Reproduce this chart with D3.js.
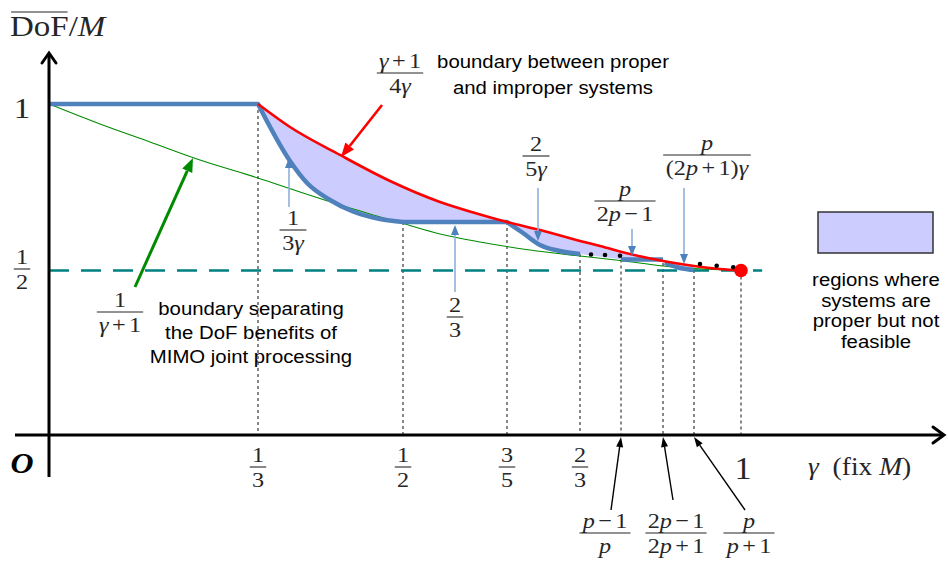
<!DOCTYPE html>
<html>
<head>
<meta charset="utf-8">
<script src="https://cdn.jsdelivr.net/npm/d3@7"></script>
<style>
  html, body { margin: 0; padding: 0; background: #fff; }
  svg { display: block; }
</style>
</head>
<body>
<svg id="chart" width="948" height="563"></svg>
<script>
// ---------- data ----------
// Break points on the γ axis (the generic p-points are drawn with p = 4)
const P = 4;
const gammaBreaks = [0, 1/3, 1/2, 3/5, 2/3, (P - 1) / P, (2 * P - 1) / (2 * P + 1), P / (P + 1), 1];

// Upper boundary (γ+1)/(4γ): proper vs improper systems
const redGamma = [1/3, 0.3701, 0.4276, 0.4851, 0.5356, 0.5692, 0.6, 0.6301, 0.6667, 0.7073, 0.7560, 0.7778, 0.8, 0.9106, 1];
const redValue = [1, 0.935, 0.856, 0.7825, 0.7232, 0.6921, 2/3, 0.6392, 0.6014, 0.5842, 0.5567, 0.5326, 0.5155, 0.5052, 0.5];

// 1/(γ+1): boundary of the MIMO joint-processing DoF benefit
const greenGamma = [0, 0.0813, 0.1611, 0.2408, 1/3, 0.3816, 0.4391, 0.5, 0.5356, 0.574, 0.621, 0.6667, 0.748, 0.7778, 0.8, 1];
const greenValue = [1, 0.9435, 0.8927, 0.8418, 0.791, 0.7514, 0.7062, 0.6615, 0.6254, 0.5979, 0.5704, 0.5498, 0.5344, 0.5155, 0.5069, 0.5];

// Achievable DoF per antenna (blue staircase), piece by piece
const blueFlat1Gamma = [0, 1/3];
const blueFlat1Value = [1, 1];
const blueDrop1Gamma = [1/3, 0.3701, 0.3897, 0.4161, 0.4425, 0.4736, 0.5];
const blueDrop1Value = [1, 0.839, 0.7768, 0.7288, 0.6963, 0.6751, 2/3];
const blueFlat2Gamma = [0.5, 0.6];
const blueFlat2Value = [2/3, 2/3];
const blueDrop2Gamma = [0.6, 0.6146, 0.6301, 0.6484, 0.6667];
const blueDrop2Value = [2/3, 0.6289, 0.5876, 0.5670, 0.5567];
const blueFlatPGamma = [0.75, 0.7778];
const blueFlatPValue = [0.5378, 0.5378];
const blueDropPGamma = [0.779, 0.7885, 0.8];
const blueDropPValue = [0.5258, 0.5103, 0.5017];

// Ellipsis dots along the staircase
const dotGamma = [0.689, 0.7175, 0.748, 0.8255, 0.8966, 0.9672];
const dotValue = [0.555, 0.5533, 0.5509, 0.5223, 0.5165, 0.511];

// Dotted guides from the axis up to the curve
const guideGamma = gammaBreaks.slice(1);
const guideTop = [1, 2/3, 2/3, 0.5567, 0.5378, 0.5258, 0.5017, 0.5];

// Tick labels
const xTickValues = [1/3, 1/2, 3/5, 2/3];
const xTickNum = ["1", "1", "3", "2"];
const xTickDen = ["3", "2", "5", "3"];
const halfLevel = 0.5;
const halfLineEnd = 1.09;

// ---------- layout ----------
const W = 948, H = 563;
const SERIF = "'Liberation Serif', 'Times New Roman', serif";
const SANS = "'Liberation Sans', Arial, sans-serif";
const INK = "#262626";
const SX = 1.1;                       // horizontal text stretch
const BLUE = "#4f81bd", RED = "#ff0000", GREEN = "#008a00", TEAL = "#008080";
const FILL = "#ccccff";

const svg = d3.select("#chart");

const x = d3.scaleLinear()
  .domain(gammaBreaks)
  .range([49, 258, 403, 507, 580, 621, 663, 694, 741]);
const y = d3.scaleLinear()
  .domain([0, 0.5, 2/3, 1])
  .range([435, 270.5, 222, 104]);

const zip = (g, v) => g.map((d, i) => [d, v[i]]);
const mono = d3.line().x(d => x(d[0])).y(d => y(d[1])).curve(d3.curveMonotoneX);
const joinPaths = parts => parts.map((p, i) => (i ? p.replace(/^M/, "L") : p)).join("");

// ---------- shaded region (proper but not feasible) ----------
const lowerPath = joinPaths([
  mono(zip(blueDrop1Gamma, blueDrop1Value)),
  mono(zip(blueFlat2Gamma, blueFlat2Value)),
  mono(zip(blueDrop2Gamma, blueDrop2Value)),
  mono(zip(blueFlatPGamma, blueFlatPValue)),
  mono(zip(blueDropPGamma, blueDropPValue))
]);
const lastLowerG = blueDropPGamma[blueDropPGamma.length - 1];
svg.append("clipPath").attr("id", "aboveBlue")
  .append("path")
  .attr("d", lowerPath + `L${x(lastLowerG)},0L${x(1/3)},0Z`);

const redPts = zip(redGamma, redValue);
svg.append("path")
  .attr("d", mono(redPts) + `L${x(1)},${y(0)}L${x(1/3)},${y(0)}Z`)
  .attr("fill", FILL)
  .attr("clip-path", "url(#aboveBlue)");

// ---------- dotted guides ----------
svg.append("g").selectAll("line").data(guideGamma).join("line")
  .attr("x1", d => x(d)).attr("x2", d => x(d))
  .attr("y1", (d, i) => y(guideTop[i])).attr("y2", y(0))
  .attr("stroke", "#111").attr("stroke-width", 1).attr("stroke-dasharray", "3,3");

// ---------- half level ----------
svg.append("line")
  .attr("x1", x(0)).attr("x2", x(halfLineEnd))
  .attr("y1", y(halfLevel)).attr("y2", y(halfLevel))
  .attr("stroke", TEAL).attr("stroke-width", 2.6).attr("stroke-dasharray", "20,12");

// ---------- green boundary ----------
svg.append("path")
  .attr("d", mono(zip(greenGamma, greenValue)))
  .attr("fill", "none").attr("stroke", GREEN).attr("stroke-width", 1.1);

// ---------- blue staircase ----------
const bluePieces = [
  joinPaths([
    mono(zip(blueFlat1Gamma, blueFlat1Value)),
    mono(zip(blueDrop1Gamma, blueDrop1Value)),
    mono(zip(blueFlat2Gamma, blueFlat2Value)),
    mono(zip(blueDrop2Gamma, blueDrop2Value))
  ]),
  mono(zip(blueFlatPGamma, blueFlatPValue)),
  mono(zip(blueDropPGamma, blueDropPValue))
];
svg.append("g").selectAll("path").data(bluePieces).join("path")
  .attr("d", d => d)
  .attr("fill", "none").attr("stroke", BLUE).attr("stroke-width", 4.5)
  .attr("stroke-linejoin", "round").attr("stroke-linecap", "butt");

// ---------- red boundary ----------
svg.append("path")
  .attr("d", mono(redPts))
  .attr("fill", "none").attr("stroke", RED).attr("stroke-width", 2.6);

// ellipsis dots
svg.append("g").selectAll("circle").data(zip(dotGamma, dotValue)).join("circle")
  .attr("cx", d => x(d[0])).attr("cy", d => y(d[1])).attr("r", 2.3).attr("fill", "#000");

// end point at γ = 1
svg.append("circle").attr("cx", x(1)).attr("cy", y(halfLevel)).attr("r", 6.8).attr("fill", RED);

// ---------- axes ----------
const axisLeftEnd = 15, axisRightEnd = 944, axisTop = 53, axisBottom = 477;
svg.append("line").attr("x1", axisLeftEnd).attr("x2", axisRightEnd)
  .attr("y1", y(0)).attr("y2", y(0)).attr("stroke", "#000").attr("stroke-width", 3);
svg.append("line").attr("x1", x(0)).attr("x2", x(0))
  .attr("y1", axisTop).attr("y2", axisBottom).attr("stroke", "#000").attr("stroke-width", 3);
svg.append("path")
  .attr("d", `M${axisRightEnd - 11},${y(0) - 8}L${axisRightEnd},${y(0)}L${axisRightEnd - 11},${y(0) + 8}`)
  .attr("fill", "none").attr("stroke", "#000").attr("stroke-width", 3)
  .attr("stroke-linejoin", "miter").attr("stroke-linecap", "round");
svg.append("path")
  .attr("d", `M${x(0) - 7},${axisTop + 10}L${x(0)},${axisTop}L${x(0) + 7},${axisTop + 10}`)
  .attr("fill", "none").attr("stroke", "#000").attr("stroke-width", 3)
  .attr("stroke-linejoin", "miter").attr("stroke-linecap", "round");

// ---------- text helpers ----------
function mathText(sel, parts, size, anchor) {
  const t = sel.append("text")
    .attr("font-family", SERIF).attr("font-size", size)
    .attr("fill", INK).attr("text-anchor", anchor || "middle");
  let pad = false;
  parts.forEach(([s, it, extra]) => {
    const op = s === "+" || s === "−";
    const ts = t.append("tspan").text(s);
    if (it) ts.attr("font-style", "italic");
    if (extra) ts.attr("font-weight", extra);
    if (op || pad) ts.attr("dx", size * 0.14);
    pad = op;
  });
  return t;
}

function fraction(cx, barY, num, den, size) {
  const g = svg.append("g").attr("transform", `translate(${cx},${barY}) scale(${SX},1)`);
  const n = mathText(g, num, size).attr("y", -size * 0.24);
  const d = mathText(g, den, size).attr("y", size * 0.93);
  const w = Math.max(n.node().getBBox().width, d.node().getBBox().width) + size * 0.18;
  g.append("line").attr("x1", -w / 2).attr("x2", w / 2).attr("y1", 0).attr("y2", 0)
    .attr("stroke", INK).attr("stroke-width", 1.1);
  return g;
}

function sansLines(cx, baselines, lines, size) {
  lines.forEach((s, i) => {
    svg.append("g").attr("transform", `translate(${cx},${baselines[i]}) scale(${SX},1)`)
      .append("text").attr("text-anchor", "middle")
      .attr("font-family", SANS).attr("font-size", size).attr("fill", "#000")
      .text(s);
  });
}

function arrow(x1, y1, x2, y2, o) {
  const a = Math.atan2(y2 - y1, x2 - x1);
  const bx = x2 - o.head * Math.cos(a), by = y2 - o.head * Math.sin(a);
  svg.append("line").attr("x1", x1).attr("y1", y1).attr("x2", bx).attr("y2", by)
    .attr("stroke", o.stroke).attr("stroke-width", o.width);
  const px = -Math.sin(a) * o.headW / 2, py = Math.cos(a) * o.headW / 2;
  svg.append("path").attr("d", `M${x2},${y2}L${bx + px},${by + py}L${bx - px},${by - py}Z`)
    .attr("fill", o.fill || o.stroke);
}

// ---------- tick labels ----------
xTickValues.forEach((v, i) => fraction(x(v), 467, [[xTickNum[i]]], [[xTickDen[i]]], 22));
fraction(22, 269, [["1"]], [["2"]], 22);

svg.append("g").attr("transform", `translate(${x(1) + 2},479) scale(${SX},1)`)
  .call(g => mathText(g, [["1"]], 31));
svg.append("g").attr("transform", `translate(22,118) scale(${SX},1)`)
  .call(g => mathText(g, [["1"]], 30));
svg.append("g").attr("transform", `translate(22,473) scale(${SX},1)`)
  .call(g => mathText(g, [["O", true, "bold"]], 29).attr("fill", "#000"));

// axis titles
svg.append("g").attr("transform", `translate(808,475) scale(${SX},1)`)
  .call(g => mathText(g, [["γ", true], ["\u2002(fix "], ["M", true], [")"]], 25, "start"));

const yt = svg.append("g").attr("transform", `translate(10,36) scale(${SX},1)`);
const dof = mathText(yt, [["DoF"]], 30, "start");
const dofW = dof.node().getComputedTextLength();
yt.append("line").attr("x1", 1).attr("x2", dofW - 1).attr("y1", -24).attr("y2", -24)
  .attr("stroke", INK).attr("stroke-width", 1.2);
mathText(yt, [["/"], ["M", true]], 30, "start").attr("x", dofW);

// ---------- generic p tick labels with pointers ----------
const pTicks = gammaBreaks.slice(5, 8);
const pLabelDx = [-16, 13, 55];
const pTailDx = [-10, 10, 51];
const pTailY = [510, 500, 510];
const pNum = [[["p", true], ["−"], ["1"]], [["2"], ["p", true], ["−"], ["1"]], [["p", true]]];
const pDen = [[["p", true]], [["2"], ["p", true], ["+"], ["1"]], [["p", true], ["+"], ["1"]]];
pTicks.forEach((g, i) => {
  arrow(x(g) + pTailDx[i], pTailY[i], x(g), y(0) + 2, { stroke: "#000", width: 1.4, head: 10, headW: 7 });
  fraction(x(g) + pLabelDx[i], 533, pNum[i], pDen[i], 22);
});

// ---------- annotations ----------
// red: upper boundary
arrow(382, 105, 341, 157, { stroke: RED, width: 2.6, head: 14, headW: 11 });
fraction(400, 73, [["γ", true], ["+"], ["1"]], [["4"], ["γ", true]], 22);
sansLines(553, [68, 93.5], ["boundary between proper", "and improper systems"], 18.5);

// green: lower boundary
arrow(135, 287, 193, 158, { stroke: GREEN, width: 3, head: 14, headW: 11 });
fraction(120, 312, [["1"]], [["γ", true], ["+"], ["1"]], 22);
sansLines(251, [315, 339, 363], ["boundary separating", "the DoF benefits of", "MIMO joint processing"], 18.5);

// blue pointers to the staircase pieces
const blueArrow = { stroke: "#8fb0dd", width: 1.6, head: 10, headW: 8, fill: BLUE };
arrow(289, 207, 289, 158, blueArrow);
fraction(293, 230, [["1"]], [["3"], ["γ", true]], 22);

arrow(455, 292, 455, 225, blueArrow);
fraction(455, 317, [["2"]], [["3"]], 22);

arrow(538, 188, 538, 241, blueArrow);
fraction(536, 156, [["2"]], [["5"], ["γ", true]], 22);

arrow(632, 229, 632, 256, blueArrow);
fraction(625, 201, [["p", true]], [["2"], ["p", true], ["−"], ["1"]], 22);

arrow(684, 188, 684, 264, blueArrow);
fraction(707, 155, [["p", true]], [["(2"], ["p", true], ["+"], ["1)"], ["γ", true]], 22);

// ---------- legend ----------
svg.append("rect").attr("x", 818).attr("y", 212).attr("width", 115).attr("height", 41)
  .attr("fill", FILL).attr("stroke", "#333").attr("stroke-width", 1.5);
sansLines(876, [286, 306.7, 327.3, 348], ["regions where", "systems are", "proper but not", "feasible"], 18.5);
</script>
</body>
</html>
